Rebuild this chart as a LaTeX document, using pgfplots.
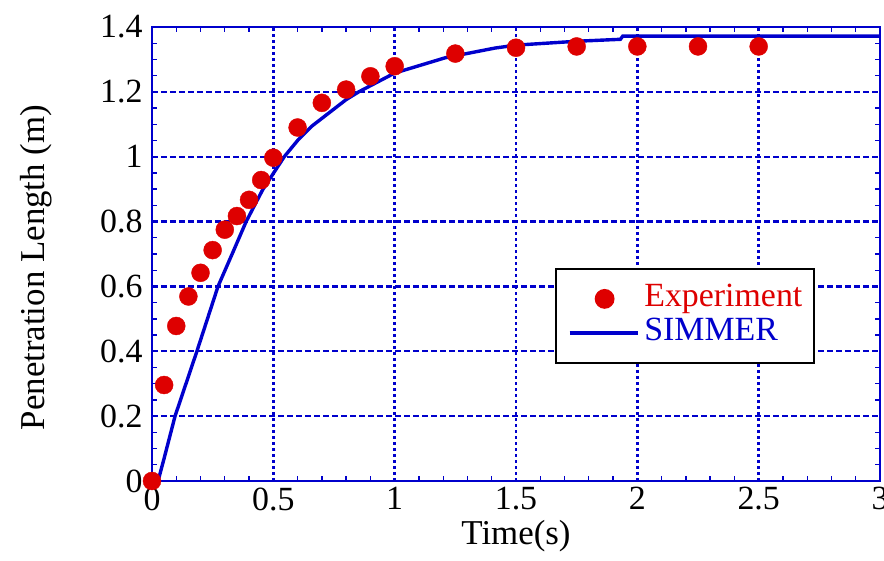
\documentclass[border=0pt]{standalone}
\usepackage{pgfplots}
\pgfplotsset{compat=1.18}
\usepackage{fontspec}
\setmainfont{Liberation Serif}
\definecolor{myred}{RGB}{222,0,0}
\definecolor{myblue}{RGB}{0,0,204}
\pgfplotsset{
  marklegend/.style={legend image code/.code={\draw[##1] plot coordinates {(35bp,0bp)};}},
  linelegend/.style={legend image code/.code={\draw[##1] (0bp,0bp) -- (68bp,0bp);}},
}
\begin{document}
\begin{tikzpicture}[x=1bp,y=1bp]
\useasboundingbox (-152,-80) rectangle (732,481);
\begin{axis}[
  at={(0,0)}, anchor=south west,
  scale only axis,
  width=728bp, height=454bp,
  xmin=0, xmax=3, ymin=0, ymax=1.4,
  xtick={0,0.5,...,3}, ytick={0,0.2,...,1.4},
  minor x tick num=4, minor y tick num=3,
  xticklabels={\textrm{0},\textrm{0.5},\textrm{1},\textrm{1.5},\textrm{2},\textrm{2.5},\textrm{3}},
  yticklabels={\textrm{0},\textrm{0.2},\textrm{0.4},\textrm{0.6},\textrm{0.8},\textrm{1},\textrm{1.2},\textrm{1.4}},
  tick align=inside,
  major tick length=0bp, minor tick length=5bp,
  every tick/.style={myblue, line width=1.3bp},
  axis line style={myblue, line width=2.6bp},
  grid=major,
  every axis grid/.append style={myblue, line width=2.5bp},
  major x grid style={myblue, line width=2.6bp, dash pattern=on 2.5bp off 3.5bp},
  major y grid style={myblue, line width=2.2bp, dash pattern=on 6bp off 3bp},
  tick label style={font=\fontsize{34}{36}\selectfont\rmfamily, black},
  yticklabel style={xshift=-6bp},
  xticklabel style={yshift=-3bp},
  /pgf/number format/assume math mode=true,
  xlabel={Time(s)}, ylabel={Penetration Length (m)},
  xlabel style={font=\fontsize{35}{37}\selectfont, at={(axis description cs:0.5,0)}, anchor=north, yshift=-36bp},
  ylabel style={font=\fontsize{35}{37}\selectfont, at={(axis description cs:-0.159,0.47)}, anchor=center, rotate=0},
  legend style={at={(axis description cs:0.5536,0.4692)}, anchor=north west, draw=black, line width=1.8bp,
    font=\fontsize{34}{36}\selectfont, inner xsep=12bp, inner ysep=13bp, row sep=0bp, column sep=5bp,
    nodes={inner sep=0bp, text height=25bp, text depth=9bp}},
  legend cell align=left,
]
\addplot[only marks, mark=*, mark size=9bp, color=myred, marklegend]
coordinates {
(0,0) (0.05,0.296) (0.1,0.478) (0.15,0.569) (0.2,0.642) (0.25,0.712) (0.3,0.775)
(0.35,0.817) (0.4,0.867) (0.45,0.928) (0.5,0.997) (0.6,1.09) (0.7,1.166) (0.8,1.207)
(0.9,1.248) (1.0,1.279) (1.25,1.318) (1.5,1.336) (1.75,1.34) (2.0,1.34) (2.25,1.34) (2.5,1.34)
};
\addlegendentry{\textcolor{myred}{Experiment}}
\addplot[myblue, line width=3.4bp, no marks, linelegend]
coordinates {
(0.025,0) (0.05,0.07) (0.095,0.2) (0.185,0.4) (0.272,0.6) (0.332,0.703) (0.388,0.8)
(0.456,0.898) (0.545,1.0) (0.6,1.05) (0.66,1.095) (0.8,1.176) (0.852,1.2) (1.0,1.258)
(1.208,1.305) (1.413,1.335) (1.5,1.344) (1.75,1.356) (1.93,1.362) (1.94,1.372) (3.0,1.372)
};
\addlegendentry{\textcolor{myblue}{SIMMER}}
\end{axis}
\end{tikzpicture}
\end{document}
